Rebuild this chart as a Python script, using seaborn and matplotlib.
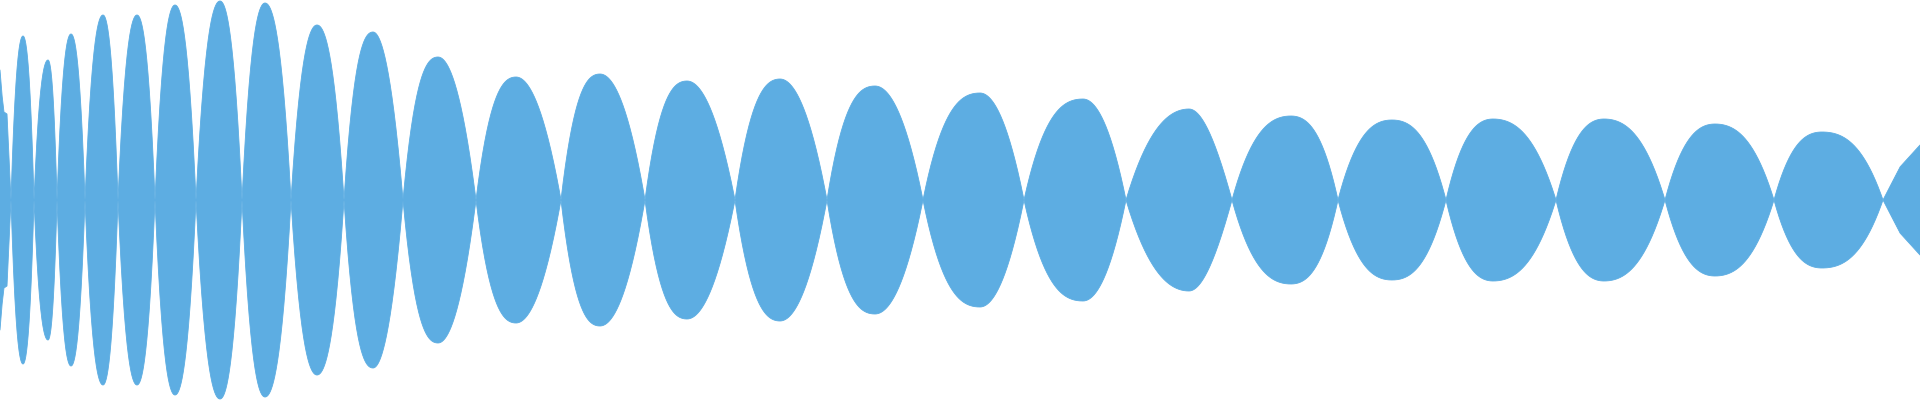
import numpy as np
import pandas as pd
import matplotlib
matplotlib.use("Agg")
import matplotlib.pyplot as plt
import seaborn as sns

# ---- data (x in sample units, amplitude in value units) ----
# leading partial lobe (before the first zero crossing)
lead_x = [0, 2, 4, 7, 11]
lead_amp = [130, 105, 88, 86, 0]
# zero crossings of the waveform
crossings = [11, 34, 57, 85, 118, 155, 196, 242, 291, 344, 403, 476, 561, 645,
             735, 827, 923, 1024, 1126, 1232, 1338, 1446, 1556, 1665, 1774, 1883]
# lobe peaks (one between each pair of crossings)
peaks_x = [23, 48, 71, 103, 137, 175, 220, 265, 317, 373, 438, 516, 600, 687,
           780, 875, 980, 1083, 1189, 1291, 1392, 1493, 1604, 1715, 1822]
peaks_amp = [164, 140, 166, 185, 185, 195, 199, 197, 175, 168, 143, 123, 126, 119,
             121, 114, 107, 101, 91, 84, 80, 81, 81, 76, 68]
# amplitude half-way between the left crossing and the peak of each lobe
rise_amp = [131, 112, 133, 148, 148, 156, 159, 158, 140, 139, 119, 102, 105, 99,
            100, 95, 89, 84, 72, 69, 66, 66, 66, 62, 56]
# amplitude half-way between the peak and the right crossing of each lobe
fall_amp = [131, 112, 133, 148, 148, 156, 159, 158, 140, 128, 109, 93, 96, 90,
            92, 87, 81, 77, 65, 69, 66, 66, 66, 62, 56]
# trailing partial lobe at the right edge
tail_x = [1883, 1900, 1920]
tail_amp = [0, 33, 55]

COLOR = "#5DADE2"
X_MAX = 1920
Y_MAX = 200


def side_shape(u, ratio):
    """Smooth cubic rise from a zero crossing (u=0) to a lobe peak (u=1)
    passing through `ratio` of the peak at u=0.5."""
    k = np.clip((ratio - 0.5) * 8, 0, 3)
    return 3 * u ** 2 - 2 * u ** 3 + k * (u - 2 * u ** 2 + u ** 3)


xq = np.linspace(0, X_MAX, 9601)
env = np.zeros_like(xq)

m = xq <= lead_x[-1]
env[m] = np.interp(xq[m], lead_x, lead_amp)
m = xq >= tail_x[0]
env[m] = np.interp(xq[m], tail_x, tail_amp)
for i, p in enumerate(peaks_x):
    c0, c1, a = crossings[i], crossings[i + 1], peaks_amp[i]
    m = (xq >= c0) & (xq <= p)
    env[m] = a * side_shape((xq[m] - c0) / (p - c0), rise_amp[i] / a)
    m = (xq >= p) & (xq <= c1)
    env[m] = a * side_shape((c1 - xq[m]) / (c1 - p), fall_amp[i] / a)

df = pd.DataFrame({"x": np.concatenate([xq, xq]),
                   "y": np.concatenate([env, -env]),
                   "side": ["upper"] * len(xq) + ["lower"] * len(xq)})

sns.set_theme(style="white")
fig = plt.figure(figsize=(19.2, 4.0), dpi=100)
ax = fig.add_axes([0, 0, 1, 1])
ax.fill_between(xq, -env, env, color=COLOR, linewidth=0)
sns.lineplot(data=df, x="x", y="y", units="side", estimator=None,
             color=COLOR, linewidth=0.6, ax=ax, legend=False)
ax.set_xlim(0, X_MAX)
ax.set_ylim(-Y_MAX, Y_MAX)
ax.axis("off")
fig.savefig("out.png", dpi=100, facecolor="white")
